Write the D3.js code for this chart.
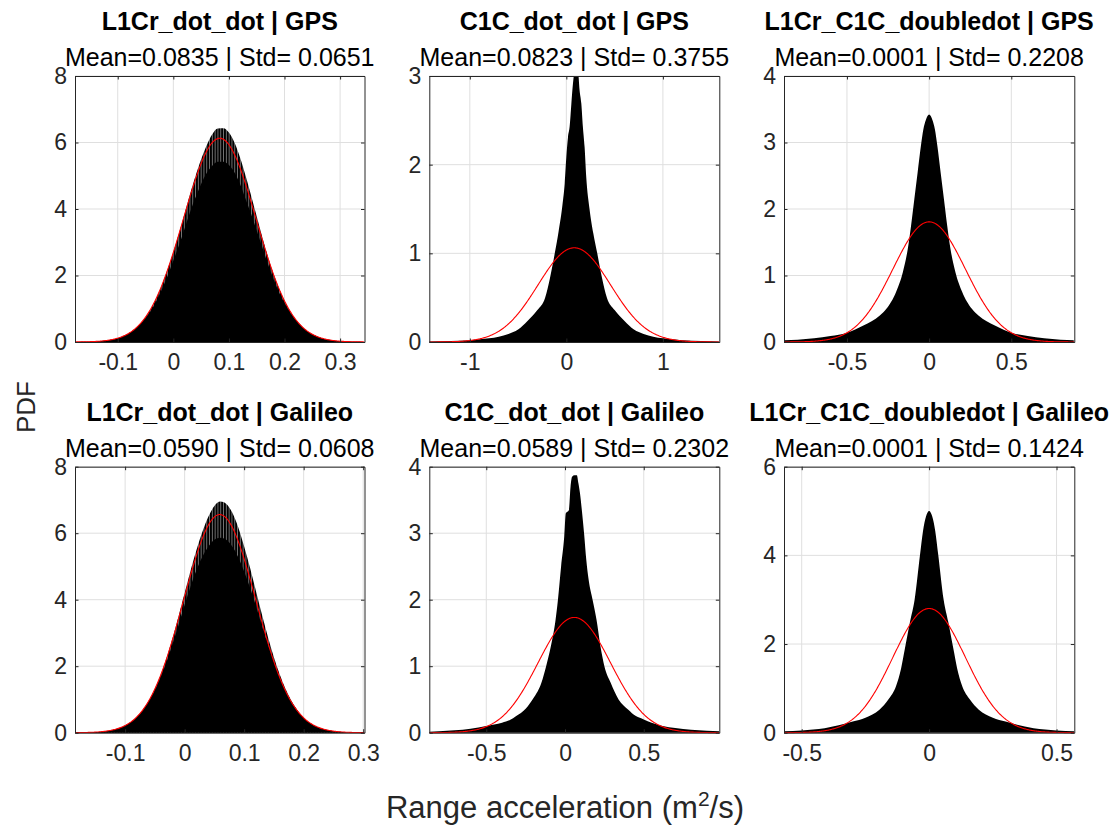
<!DOCTYPE html>
<html>
<head>
<meta charset="utf-8">
<script src="https://cdn.jsdelivr.net/npm/d3@7"></script>
<style>
  body { margin: 0; background: #fff; }
  svg text { font-family: "Liberation Sans", Arial, Helvetica, sans-serif; fill: #262626; }
</style>
</head>
<body>
<svg id="chart" width="1117" height="828"></svg>
<script>
const signals = ["L1Cr_dot_dot", "C1C_dot_dot", "L1Cr_C1C_doubledot"];
const systems = ["GPS", "Galileo"];
const means = [0.0835, 0.0823, 0.0001, 0.0590, 0.0589, 0.0001];
const stds = [0.0651, 0.3755, 0.2208, 0.0608, 0.2302, 0.1424];
const yMaxes = [8, 3, 4, 8, 4, 6];
const yTickSteps = [2, 1, 1, 2, 1, 2];
const xTickValues = [
  [-0.1, 0, 0.1, 0.2, 0.3], [-1, 0, 1], [-0.5, 0, 0.5],
  [-0.1, 0, 0.1, 0.2, 0.3], [-0.5, 0, 0.5], [-0.5, 0, 0.5]
];

// histogram outlines: bin centres and pdf heights
const gpsL1X = [-0.17,-0.16,-0.15,-0.14,-0.13,-0.12,-0.11,-0.10,-0.09,-0.08,-0.07,-0.06,-0.05,-0.04,-0.03,-0.02,-0.01,0,
  0.01,0.02,0.03,0.04,0.05,0.06,0.07,0.08,0.09,0.10,0.11,0.12,0.13,0.14,0.15,0.16,0.17,0.18,0.19,0.20,0.21,0.22,0.23,0.24,
  0.25,0.26,0.27,0.28,0.29,0.30,0.31,0.32,0.33,0.34];
const gpsL1Pdf = [0.003,0.006,0.01,0.017,0.028,0.046,0.074,0.115,0.18,0.26,0.38,0.54,0.75,1.01,1.34,1.74,2.2,2.7,
  3.26,3.85,4.45,5.0,5.5,5.92,6.25,6.42,6.43,6.3,6.0,5.55,5.0,4.4,3.78,3.16,2.58,2.06,1.62,1.24,0.93,0.68,0.49,0.34,
  0.23,0.155,0.1,0.064,0.04,0.024,0.014,0.008,0.004,0.002];
const gpsL1Core = [0.003,0.006,0.01,0.017,0.028,0.046,0.074,0.115,0.18,0.26,0.38,0.54,0.72,0.95,1.25,1.6,2.0,2.45,
  2.9,3.4,3.9,4.35,4.75,5.08,5.3,5.42,5.42,5.32,5.1,4.75,4.3,3.85,3.35,2.85,2.35,1.9,1.5,1.17,0.89,0.68,0.49,0.34,
  0.23,0.155,0.1,0.064,0.04,0.024,0.014,0.008,0.004,0.002];

const gpsC1X = [-1.42,-1.2,-1.0,-0.9,-0.8,-0.7,-0.6,-0.5,-0.4,-0.3,-0.22,-0.17,-0.12,-0.08,-0.04,-0.017,0,0.017,0.034,
  0.052,0.069,0.086,0.12,0.137,0.155,0.171,0.189,0.206,0.24,0.28,0.32,0.37,0.42,0.5,0.6,0.7,0.8,0.9,1.0,1.1,1.2,1.4,1.58];
const gpsC1Pdf = [0.005,0.01,0.02,0.03,0.042,0.06,0.09,0.14,0.24,0.36,0.5,0.72,1.0,1.25,1.55,1.79,2.09,2.31,2.43,
  2.69,2.92,3.05,3.05,2.84,2.69,2.43,2.2,1.86,1.5,1.22,1.0,0.72,0.5,0.36,0.24,0.14,0.09,0.06,0.042,0.03,0.02,0.01,0.005];

const gpsDiffX = [-0.88,-0.8,-0.7,-0.6,-0.5,-0.4,-0.3,-0.26,-0.2,-0.16,-0.13,-0.11,-0.09,-0.07,-0.05,-0.035,-0.02,0,
  0.02,0.035,0.05,0.07,0.09,0.11,0.13,0.16,0.2,0.26,0.3,0.4,0.5,0.6,0.7,0.8,0.88];
const gpsDiffPdf = [0.025,0.035,0.055,0.09,0.14,0.25,0.4,0.5,0.76,1.05,1.4,1.75,2.15,2.55,2.95,3.2,3.34,3.42,
  3.34,3.2,2.95,2.55,2.15,1.75,1.4,1.05,0.76,0.5,0.4,0.25,0.14,0.09,0.055,0.035,0.025];

const galL1X = [-0.18,-0.17,-0.16,-0.15,-0.14,-0.13,-0.12,-0.11,-0.10,-0.09,-0.08,-0.07,-0.06,-0.05,-0.04,-0.03,-0.02,-0.01,0,
  0.01,0.02,0.03,0.04,0.05,0.06,0.07,0.08,0.09,0.10,0.11,0.12,0.13,0.14,0.15,0.16,0.17,0.18,0.19,0.20,0.21,0.22,0.23,0.24,
  0.25,0.26,0.27,0.28,0.29,0.30];
const galL1Pdf = [0.003,0.005,0.01,0.018,0.031,0.052,0.086,0.138,0.215,0.33,0.48,0.69,0.97,1.32,1.75,2.27,2.86,3.52,4.2,
  4.88,5.5,6.05,6.5,6.82,6.95,6.88,6.62,6.18,5.6,4.95,4.25,3.55,2.88,2.27,1.74,1.3,0.94,0.66,0.45,0.3,0.197,0.126,0.078,
  0.047,0.028,0.016,0.009,0.005,0.003];
const galL1Core = [0.003,0.005,0.01,0.018,0.031,0.052,0.086,0.138,0.215,0.33,0.48,0.69,0.97,1.28,1.68,2.15,2.68,3.25,3.85,
  4.4,4.9,5.3,5.6,5.8,5.86,5.8,5.6,5.28,4.85,4.35,3.8,3.2,2.65,2.12,1.65,1.25,0.92,0.66,0.45,0.3,0.197,0.126,0.078,
  0.047,0.028,0.016,0.009,0.005,0.003];

const galC1X = [-0.86,-0.8,-0.7,-0.6,-0.5,-0.4,-0.35,-0.31,-0.25,-0.2,-0.15,-0.12,-0.09,-0.06,-0.045,-0.025,-0.005,0.005,
  0.025,0.035,0.045,0.06,0.075,0.085,0.095,0.108,0.122,0.135,0.15,0.175,0.2,0.225,0.25,0.29,0.34,0.4,0.45,0.5,0.55,0.62,
  0.7,0.8,0.9,0.98];
const galC1Pdf = [0.015,0.02,0.035,0.06,0.1,0.15,0.19,0.25,0.36,0.52,0.75,1.0,1.3,1.7,2.0,2.5,2.95,3.3,
  3.35,3.7,3.85,3.87,3.87,3.75,3.6,3.32,2.97,2.6,2.3,2.0,1.7,1.3,1.0,0.75,0.5,0.35,0.25,0.2,0.15,0.1,
  0.07,0.045,0.03,0.02];

const galDiffX = [-0.57,-0.5,-0.41,-0.3,-0.25,-0.195,-0.16,-0.13,-0.11,-0.095,-0.075,-0.057,-0.036,-0.024,-0.012,0,
  0.012,0.024,0.036,0.057,0.075,0.095,0.11,0.13,0.16,0.195,0.25,0.3,0.41,0.5,0.57];
const galDiffPdf = [0.03,0.05,0.1,0.25,0.34,0.52,0.75,1.05,1.45,1.9,2.5,3.0,4.0,4.55,4.88,5.0,
  4.88,4.55,4.0,3.0,2.5,1.9,1.45,1.05,0.75,0.52,0.34,0.25,0.1,0.05,0.03];

const histX = [gpsL1X, gpsC1X, gpsDiffX, galL1X, galC1X, galDiffX];
const histPdf = [gpsL1Pdf, gpsC1Pdf, gpsDiffPdf, galL1Pdf, galC1Pdf, galDiffPdf];
const histCore = [gpsL1Core, null, null, galL1Core, null, null];

// subplot boxes (pixels)
const colX = [[75, 364.5], [429.3, 719.3], [784, 1074.3]];
const rowY = [[76, 342], [466.7, 732.7]];

const svg = d3.select("#chart");
const defs = svg.append("defs");
const pat = defs.append("pattern")
  .attr("id", "stripes")
  .attr("patternUnits", "userSpaceOnUse")
  .attr("width", 2.8)
  .attr("height", 8);
pat.append("rect").attr("width", 2.8).attr("height", 8).attr("fill", "#8a8a8a");
pat.append("rect").attr("width", 2.0).attr("height", 8).attr("fill", "#000");

const fmt = (v) => String(+v.toFixed(2));

means.forEach((mu, i) => {
  const col = i % 3, row = Math.floor(i / 3);
  const [x0, x1] = colX[col];
  const [y0, y1] = rowY[row];
  const sd = stds[i];

  const x = d3.scaleLinear().domain([mu - 4 * sd, mu + 4 * sd]).range([x0, x1]);
  const y = d3.scaleLinear().domain([0, yMaxes[i]]).range([y1, y0]);
  const yTicks = d3.range(0, yMaxes[i] + 1e-9, yTickSteps[i]);

  const g = svg.append("g");

  defs.append("clipPath").attr("id", "clip" + i)
    .append("rect")
    .attr("x", x0).attr("y", y0)
    .attr("width", x1 - x0).attr("height", y1 - y0 + 1);

  // grid
  g.append("g").selectAll("line").data(xTickValues[i]).join("line")
    .attr("x1", (d) => x(d)).attr("x2", (d) => x(d))
    .attr("y1", y0).attr("y2", y1)
    .attr("stroke", "#dfdfdf").attr("stroke-width", 1);
  g.append("g").selectAll("line").data(yTicks).join("line")
    .attr("x1", x0).attr("x2", x1)
    .attr("y1", (d) => y(d)).attr("y2", (d) => y(d))
    .attr("stroke", "#dfdfdf").attr("stroke-width", 1);

  const plot = g.append("g").attr("clip-path", `url(#clip${i})`);
  const pts = histX[i].map((v, k) => [v, histPdf[i][k]]);
  const area = d3.area()
    .curve(d3.curveMonotoneX)
    .x((d) => x(d[0]))
    .y0(y(0))
    .y1((d) => y(d[1]));

  plot.append("path")
    .datum(pts)
    .attr("d", area)
    .attr("fill", histCore[i] ? "url(#stripes)" : "#000");

  if (histCore[i]) {
    const core = histX[i].map((v, k) => [v, histCore[i][k]]);
    plot.append("path").datum(core).attr("d", area).attr("fill", "#000");
  }

  // normal fit from mean / std
  const xs = d3.range(0, 401).map((k) => mu - 4 * sd + (8 * sd * k) / 400);
  const normal = xs.map((v) => [v, Math.exp(-0.5 * ((v - mu) / sd) ** 2) / (sd * Math.sqrt(2 * Math.PI))]);
  plot.append("path")
    .datum(normal)
    .attr("d", d3.line().x((d) => x(d[0])).y((d) => y(d[1])))
    .attr("fill", "none")
    .attr("stroke", "#ff0000")
    .attr("stroke-width", 1.1);

  // axes with inward ticks
  const styleAxis = (sel) => {
    sel.select(".domain").attr("stroke", "#262626").attr("stroke-width", 1);
    sel.selectAll(".tick line").attr("stroke", "#262626");
    sel.selectAll("text").style("font-size", "23px").attr("fill", "#262626");
  };
  g.append("g")
    .attr("transform", `translate(0,${y1})`)
    .call(d3.axisBottom(x).tickValues(xTickValues[i]).tickFormat(fmt).tickSize(-3.5).tickSizeOuter(0).tickPadding(11.5))
    .call(styleAxis);
  g.append("g")
    .attr("transform", `translate(0,${y0})`)
    .call(d3.axisTop(x).tickValues(xTickValues[i]).tickFormat("").tickSize(-3.5).tickSizeOuter(0))
    .call(styleAxis);
  g.append("g")
    .attr("transform", `translate(${x0},0)`)
    .call(d3.axisLeft(y).tickValues(yTicks).tickFormat(fmt).tickSize(-3.5).tickSizeOuter(0).tickPadding(8))
    .call(styleAxis);
  g.append("g")
    .attr("transform", `translate(${x1},0)`)
    .call(d3.axisRight(y).tickValues(yTicks).tickFormat("").tickSize(-3.5).tickSizeOuter(0))
    .call(styleAxis);
  g.selectAll("g").attr("font-family", null);

  // titles
  const cx = (x0 + x1) / 2;
  g.append("text")
    .attr("x", cx).attr("y", y0 - 46)
    .attr("text-anchor", "middle")
    .style("font-size", "25px").style("font-weight", "bold")
    .style("fill", "#000")
    .text(`${signals[col]} | ${systems[row]}`);
  g.append("text")
    .attr("x", cx).attr("y", y0 - 10)
    .attr("text-anchor", "middle")
    .style("font-size", "25px")
    .style("fill", "#000")
    .text(`Mean=${mu.toFixed(4)} | Std= ${sd.toFixed(4)}`);
});

// shared labels
svg.append("text")
  .attr("transform", "translate(35,407) rotate(-90)")
  .attr("text-anchor", "middle")
  .style("font-size", "26px")
  .text("PDF");

const xl = svg.append("text")
  .attr("x", 565).attr("y", 818)
  .attr("text-anchor", "middle")
  .style("font-size", "31px");
xl.append("tspan").text("Range acceleration (m");
xl.append("tspan").attr("dy", -12).style("font-size", "21px").text("2");
xl.append("tspan").attr("dy", 12).text("/s)");
</script>
</body>
</html>
